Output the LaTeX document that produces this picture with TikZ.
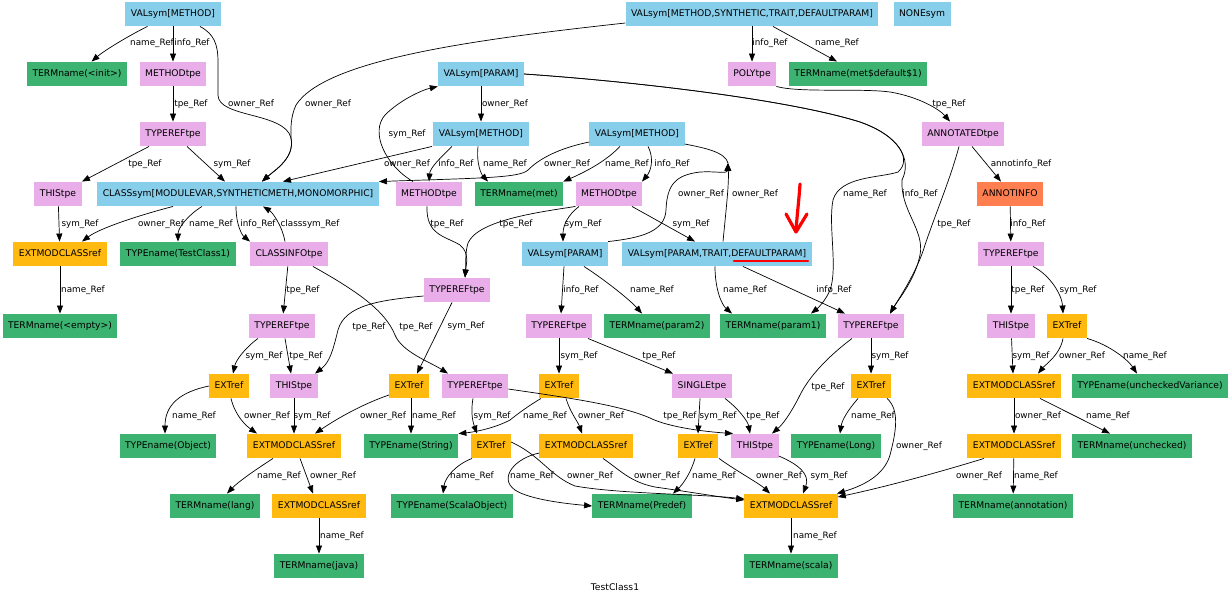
\documentclass[tikz,border=0pt]{standalone}
\usepackage{fontspec}
\setmainfont{DejaVu Sans}
\usetikzlibrary{arrows.meta}
\definecolor{cblue}{HTML}{87CEEB}
\definecolor{cgreen}{HTML}{3CB371}
\definecolor{cpink}{HTML}{E9AEE9}
\definecolor{corange}{HTML}{FFB90F}
\definecolor{ccoral}{HTML}{FF7F50}
\begin{document}
\begin{tikzpicture}[x=1pt,y=-1pt,
 nbox/.style={rectangle, inner xsep=5.5pt, inner ysep=0pt, minimum height=24.5pt, text height=7pt, text depth=2pt, font=\fontsize{9.2}{11}\selectfont},
 nsym/.style={nbox, fill=cblue}, nname/.style={nbox, fill=cgreen}, ntpe/.style={nbox, fill=cpink},
 nref/.style={nbox, fill=corange}, ninfo/.style={nbox, fill=ccoral},
 elab/.style={font=\fontsize{8.8}{10}\selectfont, inner sep=0pt},
 edg/.style={draw, line width=0.7pt, -{Triangle[length=8pt,width=6pt]}},
 edgn/.style={draw, line width=0.7pt}]
\fill[white] (0,0) rectangle (1231,598);
\useasboundingbox (0,0) rectangle (1231,598);
% row1
\node[nsym] (vm1) at (173,14) {VALsym[METHOD]};
\node[nsym] (vmS) at (752,14) {VALsym[METHOD,SYNTHETIC,TRAIT,DEFAULTPARAM]};
\node[nsym] (none) at (922,14) {NONEsym};
% row2
\node[nname] (tinit) at (77,74) {TERMname(<init>)};
\node[ntpe] (mt1) at (173,74) {METHODtpe};
\node[nsym] (vp1) at (481,74) {VALsym[PARAM]};
\node[ntpe] (poly) at (752,74) {POLYtpe};
\node[nname] (tdef) at (858,74) {TERMname(met\$default\$1)};
% row3
\node[ntpe] (tr1) at (173,134) {TYPEREFtpe};
\node[nsym] (vm2) at (481,134) {VALsym[METHOD]};
\node[nsym] (vm3) at (637,134) {VALsym[METHOD]};
\node[ntpe] (annot) at (963,134) {ANNOTATEDtpe};
% row4
\node[ntpe] (th1) at (58,194) {THIStpe};
\node[nsym] (cls) at (238,194) {CLASSsym[MODULEVAR,SYNTHETICMETH,MONOMORPHIC]};
\node[ntpe] (mt2) at (429,194) {METHODtpe};
\node[nname] (tmet) at (519,194) {TERMname(met)};
\node[ntpe] (mt3) at (609,194) {METHODtpe};
\node[ninfo] (ainfo) at (1010,194) {ANNOTINFO};
% row5
\node[nref] (emc1) at (60,254) {EXTMODCLASSref};
\node[nname] (tcls) at (178,254) {TYPEname(TestClass1)};
\node[ntpe] (cinfo) at (289,254) {CLASSINFOtpe};
\node[nsym] (vp2) at (565,254) {VALsym[PARAM]};
\node[nsym] (vpd) at (717,254) {VALsym[PARAM,TRAIT,DEFAULTPARAM]};
\node[ntpe] (tr2) at (1011,254) {TYPEREFtpe};
\node[ntpe] (tr3) at (457,290) {TYPEREFtpe};
% row6
\node[nname] (tempty) at (60,326) {TERMname(<empty>)};
\node[ntpe] (tr4) at (282,326) {TYPEREFtpe};
\node[ntpe] (tr5) at (559,326) {TYPEREFtpe};
\node[nname] (tp2) at (657,326) {TERMname(param2)};
\node[nname] (tp1) at (773,326) {TERMname(param1)};
\node[ntpe] (tr6) at (871,326) {TYPEREFtpe};
\node[ntpe] (th2) at (1011,326) {THIStpe};
\node[nref] (ex1) at (1067,326) {EXTref};
% row7
\node[nref] (ex2) at (229,386) {EXTref};
\node[ntpe] (th3) at (294,386) {THIStpe};
\node[nref] (ex3) at (409,386) {EXTref};
\node[ntpe] (tr7) at (475,386) {TYPEREFtpe};
\node[nref] (ex4) at (559,386) {EXTref};
\node[ntpe] (single) at (702,386) {SINGLEtpe};
\node[nref] (ex5) at (871,386) {EXTref};
\node[nref] (emc2) at (1014,386) {EXTMODCLASSref};
\node[nname] (tuv) at (1150,386) {TYPEname(uncheckedVariance)};
% row8
\node[nname] (tobj) at (168,446) {TYPEname(Object)};
\node[nref] (emc3) at (294,446) {EXTMODCLASSref};
\node[nname] (tstr) at (411,446) {TYPEname(String)};
\node[nref] (ex6) at (491,446) {EXTref};
\node[nref] (emc4) at (586,446) {EXTMODCLASSref};
\node[nref] (ex7) at (698,446) {EXTref};
\node[ntpe] (th4) at (755,446) {THIStpe};
\node[nname] (tlong) at (836,446) {TYPEname(Long)};
\node[nref] (emc5) at (1014,446) {EXTMODCLASSref};
\node[nname] (tunch) at (1132,446) {TERMname(unchecked)};
% row9
\node[nname] (tlang) at (215,506) {TERMname(lang)};
\node[nref] (emc6) at (319,506) {EXTMODCLASSref};
\node[nname] (tso) at (452,506) {TYPEname(ScalaObject)};
\node[nname] (tpre) at (642,506) {TERMname(Predef)};
\node[nref] (emc7) at (791,506) {EXTMODCLASSref};
\node[nname] (tann) at (1013,506) {TERMname(annotation)};
% row10
\node[nname] (tjava) at (319,566) {TERMname(java)};
\node[nname] (tscala) at (791,566) {TERMname(scala)};
\node[elab, font=\fontsize{9.2}{11}\selectfont] (title) at (615,587) {TestClass1};
\coordinate (j) at (728,163);
% edges
\draw[edg] (vm1) .. controls (130,35) and (105,50) .. (tinit);
\draw[edg] (vm1) -- (mt1);
\draw[edg] ([xshift=27pt]vm1.south) .. controls (214,34) and (218,44) .. (218,62) -- (218,95) .. controls (218,118) and (285,112) .. (291,138) .. controls (295,158) and (275,170) .. ([xshift=24pt]cls.north);
\draw[edg] ([yshift=-9pt]vmS.west) .. controls (470,40) and (325,60) .. (296,105) .. controls (290,118) and (291,130) .. (291,138) .. controls (295,158) and (275,170) .. ([xshift=24pt]cls.north);
\draw[edg] (mt1) -- (tr1);
\draw[edg] ([xshift=-24pt]tr1.south) -- ([xshift=24pt]th1.north);
\draw[edg] ([xshift=14pt]tr1.south) -- ([xshift=-13pt]cls.north);
\draw[edg] (vmS) -- (poly);
\draw[edg] ([xshift=21pt]vmS.south) -- ([xshift=-21pt]tdef.north);
\draw[edg] (poly.south east) .. controls (800,93) and (860,88) .. (890,92) .. controls (920,97) and (940,110) .. ([xshift=-13pt]annot.north);
\draw[edg] (vp1) -- (vm2);
\draw[edg] (vp1.east) .. controls (640,82) and (790,100) .. (860,122) .. controls (900,136) and (912,160) .. (898,172) .. controls (880,178) and (840,176) .. (833,200) .. controls (828,225) and (838,268) .. (830,290) .. controls (826,300) and (818,308) .. ([xshift=38pt]tp1.north);
\draw[edg] (vp1.east) .. controls (640,82) and (790,100) .. (860,122) .. controls (900,136) and (912,160) .. (902,180) .. controls (900,210) and (925,230) .. (920,255) .. controls (915,280) and (898,300) .. ([xshift=19pt]tr6.north);
\draw[edg] ([xshift=9pt]annot.south) -- ([xshift=-9pt]ainfo.north);
\draw[edg] ([xshift=-4pt]annot.south) .. controls (950,180) and (935,215) .. (925,245) .. controls (917,272) and (898,300) .. ([xshift=19pt]tr6.north);
\draw[edg] (ainfo) -- (tr2);
\draw[edg] (tr2) -- (th2);
\draw[edg] ([xshift=22pt]tr2.south) .. controls (1050,275) and (1062,295) .. ([xshift=-4pt]ex1.north);
\draw[edg] (th2) -- ([xshift=-1pt]emc2.north);
\draw[edg] ([xshift=-4pt]ex1.south) .. controls (1060,355) and (1045,365) .. ([xshift=24pt]emc2.north);
\draw[edg] (ex1.south east) .. controls (1110,345) and (1128,360) .. ([xshift=-13pt]tuv.north);
\draw[edg] (emc2) -- (emc5);
\draw[edg] ([xshift=26pt]emc2.south) -- ([xshift=-22pt]tunch.north);
\draw[edg] ([xshift=-30pt]emc5.south) .. controls (930,475) and (880,488) .. ([yshift=9pt]emc7.east);
\draw[edg] (emc5) -- (tann);
\draw[edg] ([xshift=-49pt]vm2.south) -- ([xshift=45pt]cls.north);
\draw[edg] ([xshift=-29pt]vm2.south) .. controls (440,158) and (430,168) .. (mt2.north);
\draw[edg] ([xshift=-3pt]vm2.south) .. controls (476,165) and (482,175) .. ([xshift=-31pt]tmet.north);
\draw[edg] ([xshift=-16pt]mt2.north) .. controls (385,165) and (370,132) .. (385,115) .. controls (400,100) and (422,90) .. (vp1.south west);
\draw[edg] ([xshift=-2pt]mt2.south) .. controls (426,235) and (445,236) .. (460,245) .. controls (470,253) and (466,265) .. ([xshift=8pt]tr3.north);
\draw[edg] (mt3.south west) .. controls (540,212) and (478,220) .. (468,243) .. controls (465,252) and (466,265) .. ([xshift=8pt]tr3.north);
\draw[edg] ([yshift=-8pt]vm3.west) .. controls (560,148) and (540,158) .. (528,170) .. controls (520,178) and (480,178) .. (cls.north east);
\draw[edg] ([xshift=-17pt]vm3.south) .. controls (605,162) and (585,172) .. (tmet.north east);
\draw[edg] ([xshift=11pt]vm3.south) .. controls (655,160) and (650,172) .. ([xshift=33pt]mt3.north);
\draw[edgn] ([yshift=-10pt]vm3.east) .. controls (705,148) and (725,152) .. (j);
\draw[edg] (vp2.north east) .. controls (640,238) and (665,232) .. (666,210) .. controls (667,185) and (675,175) .. (700,172) .. controls (715,171) and (727,174) .. (j);
\draw[edg] ([xshift=6pt]vpd.north) .. controls (726,210) and (729,185) .. (j);
\draw[edg] ([xshift=-30pt]mt3.south) .. controls (568,215) and (563,225) .. ([xshift=-2pt]vp2.north);
\draw[edg] ([xshift=23pt]mt3.south) -- ([xshift=-22pt]vpd.north);
\draw[edg] ([xshift=-65pt]cls.south) .. controls (140,215) and (100,228) .. ([xshift=22pt]emc1.north);
\draw[edg] ([xshift=-36pt]cls.south) .. controls (188,215) and (178,228) .. (tcls.north);
\draw[edg] ([xshift=-2pt]cls.south) .. controls (236,225) and (242,235) .. ([xshift=-39pt]cinfo.north);
\draw[edg] ([xshift=-4pt]cinfo.north) .. controls (282,225) and (272,212) .. ([xshift=25pt]cls.south);
\draw[edg] (th1) -- (emc1);
\draw[edg] (emc1) -- (tempty);
\draw[edg] (cinfo) -- (tr4);
\draw[edg] ([xshift=24pt]cinfo.south) .. controls (355,290) and (385,310) .. (395,335) .. controls (402,352) and (430,362) .. ([xshift=-27pt]tr7.north);
\draw[edg] ([yshift=-6pt]tr3.west) .. controls (380,300) and (345,305) .. (338,330) .. controls (333,350) and (330,362) .. ([xshift=21pt]th3.north);
\draw[edg] ([xshift=-5pt]tr3.south) -- ([xshift=8pt]ex3.north);
\draw[edg] ([xshift=-24pt]tr4.south) .. controls (245,348) and (236,360) .. ([xshift=4pt]ex2.north);
\draw[edg] ([xshift=3pt]tr4.south) -- ([xshift=-3pt]th3.north);
\draw[edg] (ex2.west) .. controls (180,392) and (165,405) .. ([xshift=-3pt]tobj.north);
\draw[edg] ([xshift=2pt]ex2.south) .. controls (235,415) and (245,425) .. ([xshift=-37pt]emc3.north);
\draw[edg] (th3) -- (emc3);
\draw[edg] ([yshift=-9pt]ex3.west) .. controls (360,405) and (335,420) .. ([xshift=21pt]emc3.north);
\draw[edg] ([xshift=2pt]ex3.south) -- (tstr.north);
\draw[edg] ([xshift=-2pt]tr7.south) .. controls (470,415) and (474,425) .. ([xshift=-14pt]ex6.north);
\draw[edg] ([yshift=-3pt]tr7.east) .. controls (570,398) and (620,405) .. (650,418) .. controls (670,428) and (710,432) .. ([xshift=-22pt]th4.north);
\draw[edg] ([xshift=-18pt]ex4.south) .. controls (530,405) and (520,412) .. (510,420) .. controls (495,428) and (475,432) .. (tstr.north east);
\draw[edg] ([xshift=7pt]ex4.south) .. controls (570,412) and (578,422) .. ([xshift=-4pt]emc4.north);
\draw[edg] (tr5) -- (ex4);
\draw[edg] ([xshift=29pt]tr5.south) -- ([xshift=-29pt]single.north);
\draw[edg] ([xshift=-1pt]vp2.south) -- ([xshift=2pt]tr5.north);
\draw[edg] ([xshift=19pt]vp2.south) .. controls (605,280) and (630,300) .. ([xshift=-15pt]tp2.north);
\draw[edg] ([xshift=-2pt]vpd.south) .. controls (715,290) and (722,305) .. ([xshift=-41pt]tp1.north);
\draw[edg] ([xshift=26pt]vpd.south) -- ([xshift=-26pt]tr6.north);
\draw[edg] (tr6) -- (ex5);
\draw[edg] ([xshift=-19pt]tr6.south) .. controls (830,355) and (810,375) .. (800,395) .. controls (790,415) and (782,425) .. ([xshift=17pt]th4.north);
\draw[edg] ([xshift=-2pt]single.south) -- (ex7.north);
\draw[edg] ([xshift=23pt]single.south) .. controls (740,410) and (748,422) .. ([xshift=-5pt]th4.north);
\draw[edg] ([xshift=-13pt]ex5.south) .. controls (848,410) and (842,420) .. ([xshift=4pt]tlong.north);
\draw[edg] ([xshift=16pt]ex5.south) .. controls (900,410) and (896,432) .. (890,455) .. controls (884,476) and (862,486) .. ([xshift=46pt]emc7.north);
\draw[edg] ([xshift=-19pt]ex6.south) .. controls (455,465) and (445,478) .. ([xshift=-9pt]tso.north);
\draw[edg] ([yshift=4pt]ex6.east) .. controls (540,455) and (550,476) .. (575,486) .. controls (620,494) and (700,494) .. ([yshift=7pt]emc7.west);
\draw[edg] ([yshift=-7pt]emc4.west) .. controls (515,458) and (498,478) .. (515,490) .. controls (530,500) and (570,504) .. (tpre.west);
\draw[edg] ([xshift=17pt]emc4.south) .. controls (620,470) and (630,482) .. (655,487) .. controls (690,492) and (720,497) .. ([yshift=6pt]emc7.west);
\draw[edg] ([xshift=-3pt]ex7.south) .. controls (690,475) and (682,485) .. ([xshift=31pt]tpre.north);
\draw[edg] ([xshift=21pt]ex7.south) .. controls (735,470) and (760,484) .. ([xshift=-21pt]emc7.north);
\draw[edg] ([yshift=-10pt]th4.east) .. controls (800,465) and (810,475) .. ([xshift=12pt]emc7.north);
\draw[edg] (emc7) -- (tscala);
\draw[edg] ([xshift=-21pt]emc3.south) .. controls (255,470) and (238,482) .. ([xshift=12pt]tlang.north);
\draw[edg] ([xshift=6pt]emc3.south) -- ([xshift=-6pt]emc6.north);
\draw[edg] (emc6) -- (tjava);
% labels
\foreach \lpos/\ltxt [count=\k] in {
 {152,43}/name, {192,43}/info, {251,104}/owner, {328,104}/owner, {191,104}/tpe,
 {145,164}/tpe, {232,164}/sym, {770,43}/info, {837,43}/name, {949,104}/tpe,
 {505,104}/owner, {865,194}/name, {920,194}/info, {1021,164}/annotinfo, {954,224}/tpe,
 {1028,224}/info, {1028,290}/tpe, {1078,290}/sym, {1031,356}/sym, {1082,356}/owner,
 {1145,356}/name, {1038,416}/owner, {1108,416}/name, {979,476}/owner, {1036,476}/name,
 {407,164}/owner, {456,164}/info, {505,164}/name, {407,134}/sym, {447,224}/tpe,
 {516,224}/tpe, {567,164}/owner, {627,164}/name, {672,164}/info, {701,194}/owner,
 {755,194}/owner, {583,224}/sym, {691,224}/sym, {161,224}/owner, {211,224}/name,
 {258,224}/info, {310,224}/classsym, {80,224}/sym, {83,290}/name, {303,290}/tpe,
 {416,327}/tpe, {369,327}/tpe, {466,326}/sym, {264,356}/sym, {306,356}/tpe,
 {194,416}/name, {267,416}/owner, {312,416}/sym, {383,416}/owner, {434,416}/name,
 {492,416}/sym, {680,416}/tpe, {545,416}/name, {601,416}/owner, {579,356}/sym,
 {659,356}/tpe, {581,290}/info, {652,290}/name, {745,290}/name, {834,290}/info,
 {890,356}/sym, {828,387}/tpe, {718,416}/sym, {763,416}/tpe, {873,416}/name,
 {919,446}/owner, {472,476}/name, {590,476}/owner, {532,476}/name, {657,476}/owner,
 {714,476}/name, {779,476}/owner, {829,476}/sym, {815,536}/name, {279,476}/name,
 {333,476}/owner, {342,536}/name}
 \node[elab] (lab\k) at (\lpos) {\ltxt\_Ref};
% red annotations
\draw[red, line width=3.2pt, line cap=round] (800,184) .. controls (799,200) and (797,215) .. (796,231);
\draw[red, line width=3.2pt, line cap=round, line join=round] (786,214) -- (796,232) -- (807,214);
\draw[red, line width=2.6pt, line cap=round] (734,261) -- (808,261);
\end{tikzpicture}
\end{document}
